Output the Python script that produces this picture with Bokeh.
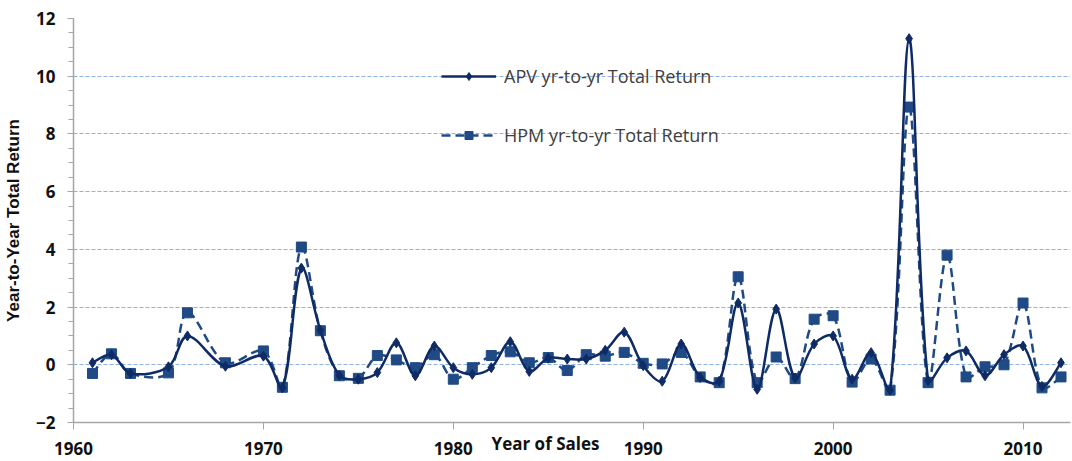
import numpy as np
from bokeh.plotting import figure
from bokeh.models import (Range1d, SingleIntervalTicker, Legend, LegendItem)
from bokeh.embed import file_html
from bokeh.resources import INLINE

years = [1961, 1962, 1963, 1965, 1966, 1968, 1970, 1971, 1972, 1973, 1974, 1975,
         1976, 1977, 1978, 1979, 1980, 1981, 1982, 1983, 1984, 1985, 1986, 1987,
         1988, 1989, 1990, 1991, 1992, 1993, 1994, 1995, 1996, 1997, 1998, 1999,
         2000, 2001, 2002, 2003, 2004, 2005, 2006, 2007, 2008, 2009, 2010, 2011, 2012]
apv = [0.07, 0.35, -0.30, -0.07, 1.00, -0.05, 0.30, -0.80, 3.35, 1.20, -0.37, -0.50,
       -0.27, 0.76, -0.38, 0.65, -0.10, -0.33, -0.10, 0.80, -0.23, 0.23, 0.20, 0.20,
       0.50, 1.13, -0.03, -0.57, 0.72, -0.44, -0.57, 2.14, -0.85, 1.93, -0.46, 0.72,
       1.00, -0.50, 0.42, -0.88, 11.30, -0.55, 0.24, 0.48, -0.38, 0.35, 0.65, -0.75, 0.07]
hpm = [-0.30, 0.38, -0.30, -0.28, 1.80, 0.07, 0.48, -0.78, 4.08, 1.18, -0.38, -0.47,
       0.32, 0.17, -0.10, 0.35, -0.50, -0.10, 0.32, 0.45, 0.07, 0.25, -0.20, 0.35,
       0.30, 0.43, 0.05, 0.03, 0.43, -0.42, -0.62, 3.05, -0.62, 0.27, -0.48, 1.58,
       1.70, -0.60, 0.20, -0.88, 8.93, -0.62, 3.80, -0.42, -0.07, 0.00, 2.14, -0.80, -0.42]

APV_COLOR = "#0F2B66"
HPM_COLOR = "#1F4A85"

X0, X1 = 1960, 2012.5
Y0, Y1 = -2, 12
W, H = 1072, 461
BL, BR, BT, BB = 73, 2, 18, 39
PX_PER_X = (W - BL - BR) / (X1 - X0)
PX_PER_Y = (H - BT - BB) / (Y1 - Y0)


def smooth_segments(xs, ys):
    """Bezier control points for a smoothed line through the data points
    (cardinal spline, handles scaled by neighbouring segment lengths in screen space)."""
    P = np.column_stack([np.asarray(xs, float), np.asarray(ys, float)])
    S = P * np.array([PX_PER_X, PX_PER_Y])
    n = len(P)
    hin = np.zeros_like(P)
    hout = np.zeros_like(P)
    for i in range(n):
        a = S[i - 1] if i > 0 else S[i]
        b = S[i + 1] if i < n - 1 else S[i]
        t = (b - a) / 6.0
        lin = np.linalg.norm(S[i] - a)
        lout = np.linalg.norm(b - S[i])
        tot = lin + lout
        if tot == 0:
            continue
        if i == 0 or i == n - 1:
            hin[i] = t
            hout[i] = t
        else:
            hin[i] = t * (2 * lin / tot)
            hout[i] = t * (2 * lout / tot)
    scale = np.array([PX_PER_X, PX_PER_Y])
    out = {k: [] for k in ("x0", "y0", "x1", "y1", "cx0", "cy0", "cx1", "cy1")}
    for i in range(n - 1):
        c1 = (S[i] + hout[i]) / scale
        c2 = (S[i + 1] - hin[i + 1]) / scale
        out["x0"].append(P[i, 0]); out["y0"].append(P[i, 1])
        out["x1"].append(P[i + 1, 0]); out["y1"].append(P[i + 1, 1])
        out["cx0"].append(c1[0]); out["cy0"].append(c1[1])
        out["cx1"].append(c2[0]); out["cy1"].append(c2[1])
    return out


p = figure(width=W, height=H, output_backend="svg", toolbar_location=None,
           x_range=Range1d(X0, X1), y_range=Range1d(Y0, Y1),
           min_border_left=BL, min_border_right=BR, min_border_top=BT, min_border_bottom=BB)
p.outline_line_color = None
p.background_fill_color = "white"

TICK_FONT = "Open Sans"

# axes
p.xaxis.ticker = SingleIntervalTicker(interval=10, num_minor_ticks=0)
p.yaxis.ticker = SingleIntervalTicker(interval=2, num_minor_ticks=4)
for ax in (p.xaxis, p.yaxis):
    ax.axis_line_color = "#A6A6A6"
    ax.axis_line_width = 1.5
    ax.major_tick_line_color = "#A6A6A6"
    ax.minor_tick_line_color = "#A6A6A6"
    ax.major_tick_in = 0
    ax.minor_tick_in = 0
    ax.major_label_text_font = TICK_FONT
    ax.major_label_text_font_style = "bold"
    ax.major_label_text_font_size = "17px"
    ax.major_label_text_color = "#111111"
p.xaxis.major_tick_out = 7
p.xaxis.minor_tick_line_color = None
p.xaxis.major_label_standoff = 12
p.yaxis.major_tick_out = 6
p.yaxis.minor_tick_out = 5
p.yaxis.major_label_standoff = 12

p.yaxis.axis_label = "Year-to-Year Total Return"
p.yaxis.axis_label_text_font = "Liberation Sans"
p.yaxis.axis_label_text_font_style = "bold"
p.yaxis.axis_label_text_font_size = "17px"
p.yaxis.axis_label_text_color = "#111111"
p.yaxis.axis_label_standoff = 10

# x-axis title sits in the tick-label row, left of centre (as in the source chart)
p.xaxis.axis_label = "Year of Sales" + "\u00a0" * 12
p.xaxis.axis_label_text_font = "Open Sans"
p.xaxis.axis_label_text_font_style = "bold"
p.xaxis.axis_label_text_font_size = "17px"
p.xaxis.axis_label_text_color = "#111111"
p.xaxis.axis_label_standoff = -26

p.xgrid.visible = False
p.ygrid.grid_line_color = "#8DB3E2"
p.ygrid.grid_line_dash = "4 2"
p.ygrid.grid_line_width = 1

# series
a = smooth_segments(years, apv)
h = smooth_segments(years, hpm)

h_line = p.bezier(x0=h["x0"], y0=h["y0"], x1=h["x1"], y1=h["y1"],
                  cx0=h["cx0"], cy0=h["cy0"], cx1=h["cx1"], cy1=h["cy1"],
                  line_color=HPM_COLOR, line_width=2.5, line_dash="9 5")
h_pts = p.scatter(years, hpm, marker="square", size=10, fill_color=HPM_COLOR,
                  line_color=HPM_COLOR)
a_line = p.bezier(x0=a["x0"], y0=a["y0"], x1=a["x1"], y1=a["y1"],
                  cx0=a["cx0"], cy0=a["cy0"], cx1=a["cx1"], cy1=a["cy1"],
                  line_color=APV_COLOR, line_width=2.5)
a_pts = p.scatter(years, apv, marker="diamond", size=10, fill_color=APV_COLOR,
                  line_color=APV_COLOR)

legend = Legend(items=[LegendItem(label="APV yr-to-yr Total Return", renderers=[a_line, a_pts]),
                       LegendItem(label="HPM yr-to-yr Total Return", renderers=[h_line, h_pts])],
                location=(368, 275), orientation="vertical",
                glyph_width=55, glyph_height=20, label_height=20, spacing=35,
                label_standoff=8, padding=0, margin=0,
                border_line_color=None, background_fill_alpha=0,
                label_text_font="Open Sans", label_text_font_size="18px",
                label_text_color="#404040")
p.add_layout(legend, "center")

open("out.html", "w").write(file_html(p, INLINE))
